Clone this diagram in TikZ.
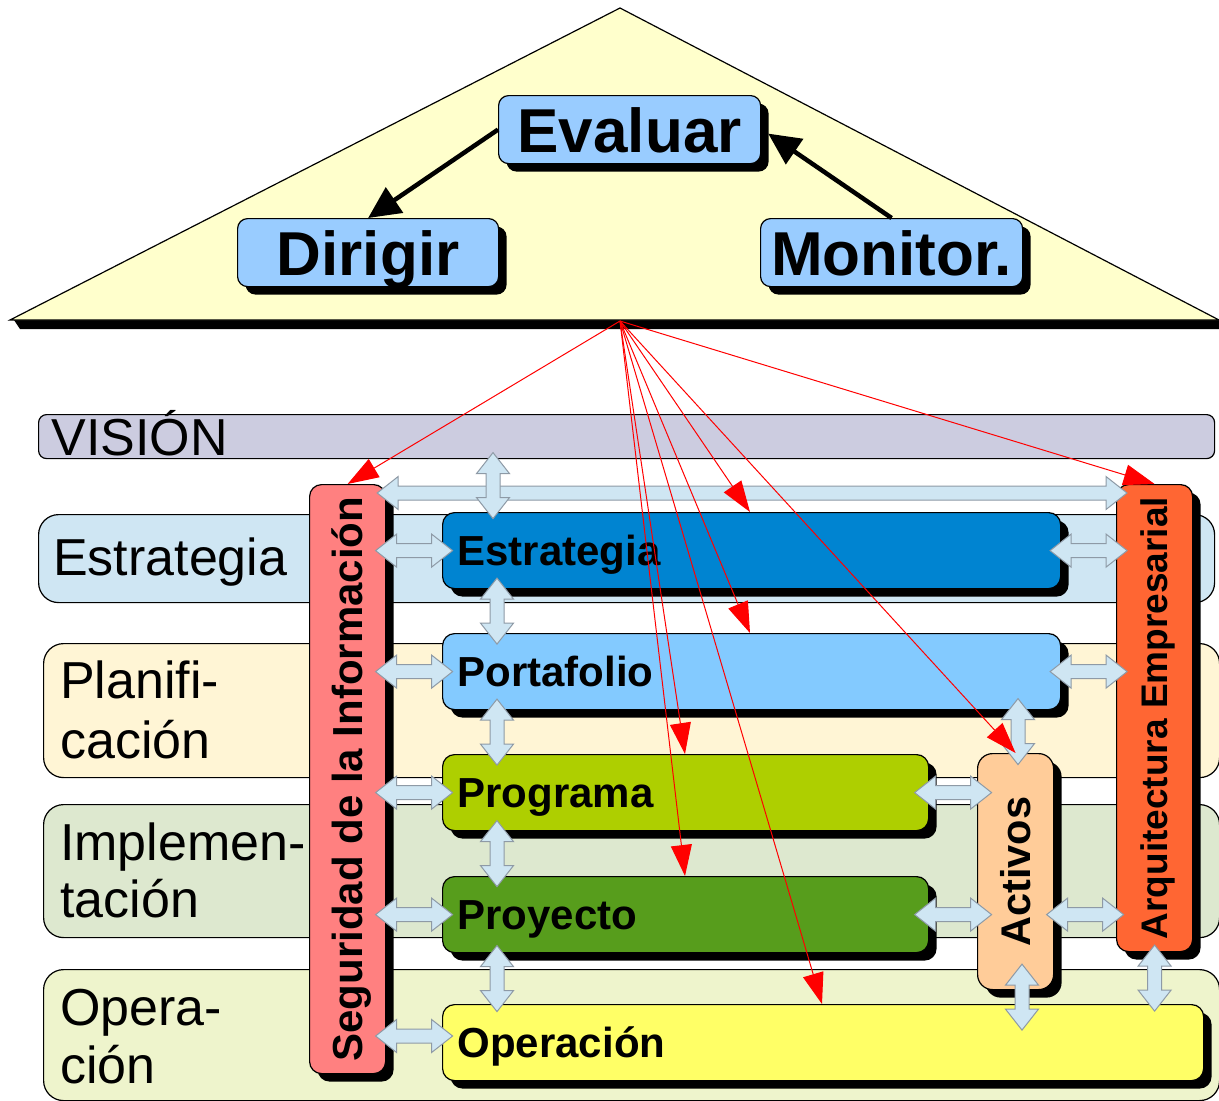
\documentclass[tikz,border=0pt]{standalone}
\usepackage{fontspec}
\setmainfont{Liberation Sans}
\usetikzlibrary{arrows.meta,calc,shadows}
\definecolor{tric}{HTML}{FFFFCC}
\definecolor{evalc}{HTML}{99CCFF}
\definecolor{visc}{HTML}{CCCCE0}
\definecolor{bestc}{HTML}{CFE6F3}
\definecolor{bplanc}{HTML}{FFF5D5}
\definecolor{bimpc}{HTML}{DDE8CF}
\definecolor{bopc}{HTML}{EEF4CC}
\definecolor{estrc}{HTML}{0084D1}
\definecolor{portc}{HTML}{83CAFF}
\definecolor{progc}{HTML}{AECF00}
\definecolor{proyc}{HTML}{579D1C}
\definecolor{operc}{HTML}{FFFF66}
\definecolor{segc}{HTML}{FF8080}
\definecolor{arqc}{HTML}{FF6633}
\definecolor{actc}{HTML}{FFCC99}
\definecolor{arrfill}{HTML}{CFE6F3}
\definecolor{arrdraw}{HTML}{8E9AA6}
\tikzset{
  shad/.style={drop shadow={shadow xshift=8pt,shadow yshift=-8pt,fill=black,opacity=1}},
  topbox/.style={draw=black, line width=1.2pt, fill=evalc, rounded corners=10pt, shad,
    inner sep=0pt, font=\fontsize{62}{70}\selectfont\bfseries, text height=45pt, text depth=0pt,
    minimum width=262pt, minimum height=68pt, anchor=north west},
  band/.style={draw=black, line width=1.2pt, rounded corners=20pt, inner sep=0pt, anchor=north west},
  bandlabel/.style={font=\fontsize{52}{58}\selectfont, inner sep=0pt, align=left, anchor=base west},
  hbox/.style={draw=black, line width=1.2pt, rounded corners=12pt, shad, inner xsep=15pt, inner ysep=0pt,
    align=left, font=\fontsize{42}{50}\selectfont\bfseries, text height=30pt, text depth=0pt,
    minimum height=76pt, anchor=north west},
  vbox/.style={draw=black, line width=1.2pt, rounded corners=12pt, shad, inner sep=0pt,
    minimum width=76pt, anchor=north west, font=\bfseries},
  dblarr/.style={fill=arrfill, draw=arrdraw, line width=1pt, line join=miter},
  redarr/.style={red, line width=1pt, -{Triangle[length=31pt,width=21pt]}},
  blkarr/.style={black, line width=4.5pt, -{Triangle[length=32pt,width=30pt]}},
}
\newcommand\hblk[2]{\draw[dblarr] let \p1=#1, \p2=#2 in
 (\x1,\y1) -- (\x1+21pt,\y1+16.5pt) -- (\x1+21pt,\y1+7pt) -- (\x2-21pt,\y1+7pt) -- (\x2-21pt,\y1+16.5pt)
 -- (\x2,\y1) -- (\x2-21pt,\y1-16.5pt) -- (\x2-21pt,\y1-7pt) -- (\x1+21pt,\y1-7pt) -- (\x1+21pt,\y1-16.5pt) -- cycle;}
\newcommand\vblk[2]{\draw[dblarr] let \p1=#1, \p2=#2 in
 (\x1,\y1) -- (\x1+16.5pt,\y1-21pt) -- (\x1+7pt,\y1-21pt) -- (\x1+7pt,\y2+21pt) -- (\x1+16.5pt,\y2+21pt)
 -- (\x1,\y2) -- (\x1-16.5pt,\y2+21pt) -- (\x1-7pt,\y2+21pt) -- (\x1-7pt,\y1-21pt) -- (\x1-16.5pt,\y1-21pt) -- cycle;}
\newcommand\hmid[3]{\hblk{($(#1|-#3)!.5!(#2|-#3)+(-38.5pt,0pt)$)}{($(#1|-#3)!.5!(#2|-#3)+(38.5pt,0pt)$)}}
\newcommand\vmid[3]{\vblk{($(#3|-#1)!.5!(#3|-#2)+(0pt,33pt)$)}{($(#3|-#1)!.5!(#3|-#2)+(0pt,-33pt)$)}}
\begin{document}
\begin{tikzpicture}[x=1pt,y=-1pt]
\useasboundingbox (0,0) rectangle (1219,1101);
\fill[white] (0,0) rectangle (1219,1101);
% roof
\fill[black] (14,320) -- (1219,320) -- (1219,329) -- (20,329) -- cycle;
\draw[fill=tric, line width=1.2pt] (620,8) -- (1219,320) -- (10,320) -- cycle;
\coordinate (hub) at (620,321);
\node[topbox] (eval) at (498,95) {Evaluar};
\node[topbox, minimum width=261pt] (dir) at (237,218) {Dirigir};
\node[topbox] (mon) at (760,218) {Monitor.};
\draw[blkarr] (eval.west) -- (dir.north);
\draw[blkarr] (mon.north) -- ([shift={(7pt,-4pt)}]eval.east);
% bands
\node[band, fill=visc, rounded corners=8pt, minimum width=1176pt, minimum height=44pt,
  text width=1150pt, inner xsep=13pt, align=left, font=\fontsize{52}{58}\selectfont,
  text height=37.5pt, text depth=0pt] (vision) at (38,414) {VISIÓN};
\node[band, fill=bestc, minimum width=1176pt, minimum height=88pt] (bEst) at (38,514) {};
\node[band, fill=bplanc, minimum width=1176pt, minimum height=134pt] (bPlan) at (43,643) {};
\node[band, fill=bimpc, minimum width=1176pt, minimum height=133pt] (bImp) at (43,804) {};
\node[band, fill=bopc, minimum width=1176pt, minimum height=131pt] (bOp) at (43,969) {};
\node[bandlabel] (lEst) at (53,575) {Estrategia};
\node[bandlabel, font=\fontsize{52}{60}\selectfont] (lPlan) at (60,758) {Planifi-\\cación};
\node[bandlabel, font=\fontsize{52}{57}\selectfont] (lImp) at (60,917) {Implemen-\\tación};
\node[bandlabel] (lOp) at (60,1083) {Opera-\\ción};
% boxes
\node[vbox, fill=segc, minimum height=589pt] (seg) at (309,484)
  {\fontsize{42}{50}\selectfont\rotatebox{90}{\raisebox{0pt}[30pt][0pt]{Seguridad de la Información}}};
\node[vbox, fill=arqc, minimum height=467pt] (arq) at (1116,484)
  {\fontsize{37}{44}\selectfont\rotatebox{90}{\raisebox{0pt}[26.5pt][0pt]{Arquitectura Empresarial}}};
\node[vbox, fill=actc, minimum height=236pt, rounded corners=15pt] (act) at (977,753)
  {\fontsize{41.5}{50}\selectfont\rotatebox{90}{\raisebox{0pt}[29.7pt][0pt]{Activos}}};
\node[hbox, fill=estrc, text width=588pt] (estr) at (442,512) {Estrategia};
\node[hbox, fill=portc, text width=588pt] (port) at (442,633) {Portafolio};
\node[hbox, fill=progc, text width=456pt] (prog) at (442,754) {Programa};
\node[hbox, fill=proyc, text width=456pt] (proy) at (442,876) {Proyecto};
\node[hbox, fill=operc, text width=731pt] (oper) at (442,1004) {Operación};
% helper coordinates
\coordinate (topRow) at (0,493);
\coordinate (opRow) at (0,1036);
\coordinate (colV) at (493,0);
\coordinate (colA) at (497,0);
\coordinate (colB) at (1018,0);
\coordinate (colC) at (1022,0);
% double arrows
\hblk{($(seg.east|-topRow)+(-9pt,0pt)$)}{($(arq.west|-topRow)+(11pt,0pt)$)}
\vmid{vision.south}{estr.north}{colV}
\hmid{seg.east}{estr.west}{estr.west}
\hmid{seg.east}{port.west}{port.west}
\hmid{seg.east}{prog.west}{prog.west}
\hmid{seg.east}{proy.west}{proy.west}
\hmid{seg.east}{oper.west}{opRow}
\vmid{estr.south}{port.north}{colA}
\vmid{port.south}{prog.north}{colA}
\vmid{prog.south}{proy.north}{colA}
\vmid{proy.south}{oper.north}{colA}
\hmid{estr.east}{arq.west}{estr.east}
\hmid{port.east}{arq.west}{port.east}
\vmid{port.south}{act.north}{colB}
\hmid{prog.east}{act.west}{prog.east}
\hmid{proy.east}{act.west}{proy.east}
\hmid{act.east}{arq.west}{proy.east}
\vmid{act.south}{oper.north}{colC}
\vmid{arq.south}{oper.north}{arq.south}
% red arrows
\draw[redarr] (hub) -- (seg.north);
\draw[redarr] (hub) -- (arq.north);
\draw[redarr] (hub) -- ([xshift=308pt]estr.north west);
\draw[redarr] (hub) -- ([xshift=308pt]port.north west);
\draw[redarr] (hub) -- ([xshift=243pt]prog.north west);
\draw[redarr] (hub) -- ([xshift=243pt]proy.north west);
\draw[redarr] (hub) -- ([xshift=380pt]oper.north west);
\draw[redarr] (hub) -- (act.north);
\end{tikzpicture}
\end{document}
